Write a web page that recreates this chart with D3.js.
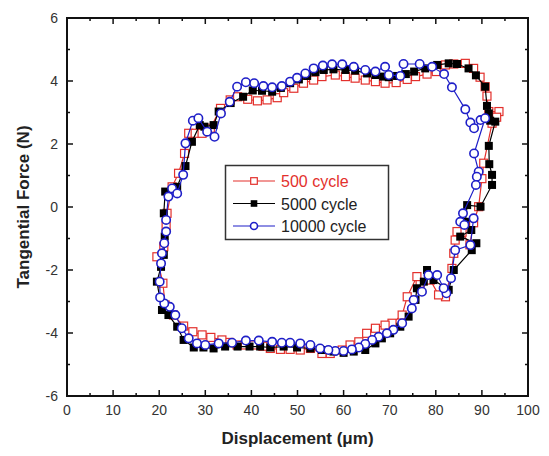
<!DOCTYPE html>
<html>
<head>
<meta charset="utf-8">
<script src="https://cdn.jsdelivr.net/npm/d3@7"></script>
<style>
  body { margin: 0; background: #fff; }
  svg text { font-family: Arial, "Liberation Sans", sans-serif; }
</style>
</head>
<body>
<div id="container"></div>
<script>
/* CONSTANTS AND GLOBALS */
const width = 549,
  height = 456,
  margin = { top: 18, right: 21, bottom: 60, left: 67 };

// axis ticks
const xTicks = [0, 10, 20, 30, 40, 50, 60, 70, 80, 90, 100];
const yTicks = [-6, -4, -2, 0, 2, 4, 6];

// legend labels
const seriesNames = ["500 cycle", "5000 cycle", "10000 cycle"];

// [displacement (um), tangential force (N)] around each loop
const cycle500 = [
  [21.7,-0.20],[22.8,0.64],[24.2,1.07],[25.5,1.70],[26.4,2.34],[27.8,2.34],[29.3,2.34],[31.1,2.50],
  [33.3,3.13],[35.4,3.40],[37.0,3.50],[39.2,3.42],[41.3,3.37],[43.4,3.40],[45.6,3.47],[47.0,3.63],
  [49.2,3.77],[51.3,3.93],[53.5,4.03],[55.3,4.14],[58.2,4.19],[60.4,4.14],[62.5,4.09],[64.7,4.03],
  [66.9,3.98],[69.0,3.93],[71.4,3.95],[73.8,4.05],[75.6,4.14],[78.1,4.22],[80.1,4.30],[82.1,4.51],
  [83.9,4.54],[86.4,4.56],[88.2,4.40],[89.6,4.12],[90.7,3.82],[91.1,3.52],[91.5,3.03],[93.7,3.03],
  [93.2,2.85],[92.2,2.66],[90.4,1.39],[90.0,0.90],[89.3,0.01],[88.2,-0.50],[87.4,-1.20],[85.7,-0.80],
  [84.6,-0.78],[84.2,-1.05],[83.9,-1.47],[83.5,-1.95],[82.1,-2.85],[80.6,-2.79],[78.8,-2.32],[76.6,-2.42],
  [75.9,-2.21],[73.8,-2.85],[72.7,-3.43],[70.5,-3.69],[69.0,-3.75],[66.9,-3.85],[65.0,-4.01],[63.3,-4.28],
  [61.4,-4.38],[59.7,-4.54],[57.1,-4.65],[55.3,-4.65],[52.8,-4.49],[50.6,-4.54],[48.4,-4.52],[46.3,-4.52],
  [44.1,-4.49],[42.5,-4.42],[40.5,-4.38],[38.7,-4.38],[36.9,-4.38],[35.2,-4.30],[33.6,-4.22],[31.2,-4.14],
  [29.3,-4.06],[27.3,-3.96],[25.3,-3.78],[23.1,-3.43],[21.3,-3.11],[20.8,-2.42],[19.5,-1.58],[21.0,-1.26],
  [21.5,-0.60]
];

const cycle5000 = [
  [21.0,-0.20],[21.3,0.49],[23.9,0.64],[25.7,1.30],[27.1,2.07],[28.8,2.60],[29.8,2.55],[31.8,2.60],
  [32.9,3.03],[35.5,3.30],[38.2,3.50],[40.3,3.70],[42.3,3.69],[44.5,3.66],[46.4,3.78],[48.4,3.93],
  [50.3,4.05],[52.1,4.16],[53.9,4.28],[55.7,4.35],[57.8,4.37],[60.4,4.35],[62.5,4.33],[65.1,4.24],
  [66.9,4.19],[68.6,4.14],[69.8,4.12],[71.6,4.16],[73.5,4.22],[75.3,4.30],[77.7,4.40],[80.3,4.51],
  [82.8,4.56],[84.6,4.54],[87.1,4.40],[88.7,4.18],[90.7,3.82],[91.1,3.21],[91.5,2.97],[91.8,2.74],
  [92.9,2.71],[91.5,1.94],[91.6,1.36],[92.2,1.02],[92.2,0.70],[89.7,0.01],[86.8,0.06],[86.4,-0.47],
  [87.7,-0.73],[85.3,-0.94],[88.8,-1.15],[87.8,-1.37],[83.9,-2.00],[82.8,-2.63],[79.5,-2.32],[78.1,-2.00],
  [77.4,-2.37],[75.9,-2.58],[75.6,-2.95],[74.1,-3.48],[72.3,-3.80],[70.1,-4.01],[68.3,-4.17],[66.9,-4.33],
  [64.7,-4.54],[62.2,-4.59],[60.0,-4.63],[57.8,-4.59],[55.3,-4.54],[52.8,-4.49],[49.9,-4.46],[47.0,-4.43],
  [44.1,-4.46],[41.9,-4.43],[39.6,-4.43],[37.0,-4.43],[34.3,-4.43],[31.8,-4.49],[29.6,-4.46],[27.5,-4.46],
  [25.3,-4.22],[23.9,-3.80],[22.0,-3.43],[20.6,-3.27],[19.5,-2.37],[20.4,-1.90],[21.0,-1.52],[21.2,-0.94]
];

const cycle10000 = [
  [21.5,-0.41],[22.0,0.33],[22.8,0.59],[23.9,0.43],[25.2,1.02],[25.7,2.02],[27.3,2.74],[28.5,2.82],
  [30.4,2.39],[32.0,2.23],[33.4,2.97],[35.3,3.34],[36.9,3.82],[38.8,3.96],[40.6,3.93],[42.6,3.84],
  [44.5,3.80],[46.6,3.84],[48.4,3.98],[49.9,4.10],[51.7,4.24],[53.5,4.40],[55.5,4.49],[57.5,4.53],
  [59.7,4.53],[62.2,4.45],[64.7,4.35],[66.9,4.30],[69.0,4.45],[69.8,4.19],[72.3,4.16],[73.0,4.54],
  [76.5,4.54],[79.2,4.45],[81.8,4.22],[83.5,3.80],[86.4,3.10],[87.5,2.68],[88.3,2.50],[89.7,2.76],
  [90.7,2.82],[88.3,1.70],[89.3,1.12],[88.9,0.96],[88.7,0.70],[85.9,-0.20],[85.3,-0.47],[86.2,-0.57],
  [88.2,-0.36],[87.5,-1.21],[84.2,-1.37],[83.3,-2.26],[82.3,-2.74],[81.7,-2.58],[80.3,-2.16],[78.4,-2.16],
  [77.0,-2.69],[75.2,-2.95],[74.8,-3.22],[72.7,-3.69],[70.8,-3.90],[69.4,-4.01],[67.6,-4.12],[66.2,-4.22],
  [64.7,-4.35],[63.3,-4.46],[61.8,-4.52],[60.0,-4.57],[58.2,-4.57],[56.7,-4.54],[54.9,-4.49],[52.8,-4.38],
  [50.6,-4.33],[48.4,-4.31],[46.6,-4.31],[44.5,-4.28],[41.6,-4.24],[38.8,-4.24],[35.8,-4.31],[32.9,-4.33],
  [30.0,-4.38],[28.2,-4.33],[26.4,-4.17],[24.9,-3.85],[23.5,-3.43],[22.3,-3.17],[21.1,-3.06],[20.2,-2.87],
  [20.1,-2.37],[20.4,-1.79],[20.6,-1.47],[21.1,-1.15],[21.5,-0.78]
];

const colors = ["#e3302c", "#000000", "#1f1fc8"];
const symbols = ["openSquare", "filledSquare", "openCircle"];

/* SCALES */
const xScale = d3.scaleLinear().domain([0, 100]).range([margin.left, width - margin.right]);
const yScale = d3.scaleLinear().domain([-6, 6]).range([height - margin.bottom, margin.top]);

const svg = d3.select("#container").append("svg")
  .attr("width", width)
  .attr("height", height);

const x0 = xScale(0), x1 = xScale(100), y0 = yScale(-6), y1 = yScale(6);

// tick marks pointing inward, on all four sides
const xMinor = d3.range(5, 100, 10);
const yMinor = d3.range(-5, 6, 2);
const ticks = svg.append("g").attr("stroke", "#111").attr("stroke-width", 1.5);
xTicks.forEach(v => {
  ticks.append("line").attr("x1", xScale(v)).attr("x2", xScale(v)).attr("y1", y0).attr("y2", y0 - 6);
  ticks.append("line").attr("x1", xScale(v)).attr("x2", xScale(v)).attr("y1", y1).attr("y2", y1 + 6);
});
xMinor.forEach(v => {
  ticks.append("line").attr("x1", xScale(v)).attr("x2", xScale(v)).attr("y1", y0).attr("y2", y0 - 3);
  ticks.append("line").attr("x1", xScale(v)).attr("x2", xScale(v)).attr("y1", y1).attr("y2", y1 + 3);
});
yTicks.forEach(v => {
  ticks.append("line").attr("y1", yScale(v)).attr("y2", yScale(v)).attr("x1", x0).attr("x2", x0 + 6);
  ticks.append("line").attr("y1", yScale(v)).attr("y2", yScale(v)).attr("x1", x1).attr("x2", x1 - 6);
});
yMinor.forEach(v => {
  ticks.append("line").attr("y1", yScale(v)).attr("y2", yScale(v)).attr("x1", x0).attr("x2", x0 + 3);
  ticks.append("line").attr("y1", yScale(v)).attr("y2", yScale(v)).attr("x1", x1).attr("x2", x1 - 3);
});

// frame
svg.append("rect")
  .attr("x", x0).attr("y", y1)
  .attr("width", x1 - x0).attr("height", y0 - y1)
  .attr("fill", "none").attr("stroke", "#111").attr("stroke-width", 2);

// tick labels
svg.append("g").selectAll("text")
  .data(xTicks).join("text")
  .attr("x", d => xScale(d)).attr("y", y0 + 19)
  .attr("text-anchor", "middle")
  .attr("font-size", 14).attr("fill", "#333")
  .text(d => d);

svg.append("g").selectAll("text")
  .data(yTicks).join("text")
  .attr("x", x0 - 9).attr("y", d => yScale(d) + 5)
  .attr("text-anchor", "end")
  .attr("font-size", 14).attr("fill", "#333")
  .text(d => d);

// axis titles
svg.append("text")
  .attr("x", (x0 + x1) / 2).attr("y", 444)
  .attr("text-anchor", "middle")
  .attr("font-size", 17).attr("font-weight", "bold").attr("fill", "#222")
  .text("Displacement (μm)");

svg.append("text")
  .attr("transform", `translate(29, ${(y0 + y1) / 2}) rotate(-90)`)
  .attr("text-anchor", "middle")
  .attr("font-size", 17).attr("font-weight", "bold").attr("fill", "#222")
  .text("Tangential Force (N)");

/* MARKERS */
function drawMarker(g, kind, color, x, y, s = 4) {
  if (kind === "openSquare") {
    g.append("rect").attr("x", x - s).attr("y", y - s).attr("width", 2 * s).attr("height", 2 * s)
      .attr("fill", "#fff").attr("stroke", color).attr("stroke-width", 1.2);
  } else if (kind === "filledSquare") {
    g.append("rect").attr("x", x - s).attr("y", y - s).attr("width", 2 * s).attr("height", 2 * s)
      .attr("fill", color);
  } else {
    g.append("circle").attr("cx", x).attr("cy", y).attr("r", s + 0.2)
      .attr("fill", "#fff").attr("stroke", color).attr("stroke-width", 1.6);
  }
}

const line = d3.line().x(d => xScale(d[0])).y(d => yScale(d[1]));

[cycle500, cycle5000, cycle10000].forEach((data, i) => {
  const g = svg.append("g");
  g.append("path")
    .attr("d", line(data))
    .attr("fill", "none")
    .attr("stroke", colors[i])
    .attr("stroke-width", 1.2);
  data.forEach(d => drawMarker(g, symbols[i], colors[i], xScale(d[0]), yScale(d[1])));
});

/* LEGEND */
const legend = svg.append("g");
legend.append("rect")
  .attr("x", 225.5).attr("y", 165.5).attr("width", 163).attr("height", 74)
  .attr("fill", "#fff").attr("stroke", "#333").attr("stroke-width", 1.5);

seriesNames.forEach((name, i) => {
  const ly = 181 + i * 22.5;
  legend.append("line")
    .attr("x1", 233).attr("x2", 275).attr("y1", ly).attr("y2", ly)
    .attr("stroke", colors[i]).attr("stroke-width", 1.2);
  drawMarker(legend, symbols[i], colors[i], 254, ly, 3.3);
  legend.append("text")
    .attr("x", 281).attr("y", ly + 6)
    .attr("font-size", 16)
    .attr("fill", i === 0 ? "#e3302c" : "#222")
    .text(name);
});
</script>
</body>
</html>
